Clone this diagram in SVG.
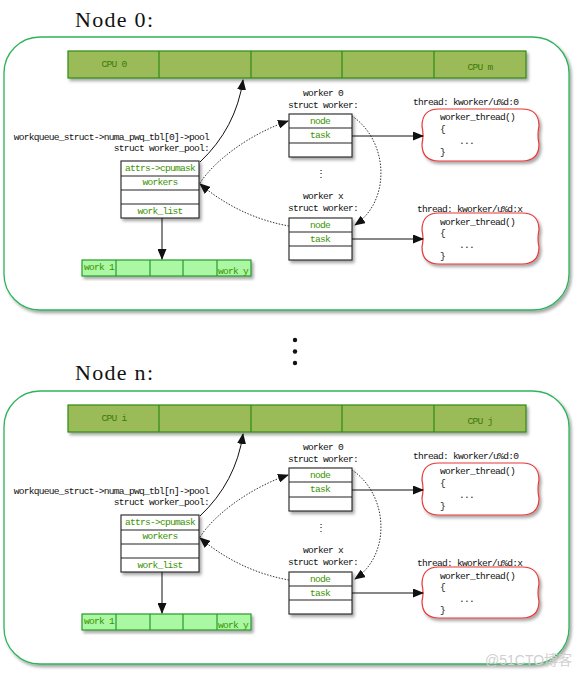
<svg xmlns="http://www.w3.org/2000/svg" width="581" height="676" viewBox="0 0 581 676">
<style>
.m{font-family:"Liberation Mono","DejaVu Sans Mono",monospace;font-size:9.6px;letter-spacing:-0.75px;fill:#111}
.mid{text-anchor:middle}
.end{text-anchor:end}
.g{fill:#3a9400}
.cpu{fill:#3a7a08}
.title{font-family:"Liberation Serif","DejaVu Serif",serif;font-size:22px;fill:#111}
.cont{fill:#fff;stroke:#2db45a;stroke-width:1.3}
.cpubar{fill:#9bbb59;stroke:#2f8a1a;stroke-width:1.2}
.wl{fill:#aaf7a4;stroke:#2a9a2a;stroke-width:1.2}
.box{fill:#fff;stroke:#222;stroke-width:1.1}
.cloud{fill:#fff;stroke:#e83838;stroke-width:1.2}
.sol{fill:none;stroke:#111;stroke-width:1}
.dot{fill:none;stroke:#333;stroke-width:1;stroke-dasharray:1.5 1.5}
</style>
<defs>
<filter id="sh" x="-10%" y="-10%" width="130%" height="140%">
<feDropShadow dx="2" dy="2.5" stdDeviation="1.5" flood-color="#000" flood-opacity="0.35"/>
</filter>
<marker id="ah" markerUnits="userSpaceOnUse" markerWidth="11" markerHeight="9" refX="10" refY="4.5" orient="auto">
<path d="M0,0 L11,4.5 L0,9 Z" fill="#111"/>
</marker>
</defs>

<!-- ===== Node 0 ===== -->
<text class="title" x="75" y="27" textLength="78">Node 0:</text>

<g id="node0-container">
<rect class="cont" x="4" y="37" width="565" height="273" rx="36" filter="url(#sh)"/>
</g>

<g id="node0-cpus">
<rect class="cpubar" x="68" y="51" width="458" height="27" filter="url(#sh)"/>
<path d="M159,51V78M251,51V78M342,51V78M434,51V78" stroke="#2f8a1a" stroke-width="1.2"/>
<text class="m mid cpu" x="114" y="67">CPU 0</text>
<text class="m mid cpu" x="480" y="70">CPU m</text>
</g>

<g id="node0-pool">
<text class="m end" x="209" y="140">workqueue_struct-&gt;numa_pwq_tbl[0]-&gt;pool</text>
<text class="m end" x="209" y="151">struct worker_pool:</text>
<rect class="box" x="121" y="161" width="78" height="57" filter="url(#sh)"/>
<path d="M121,176H199M121,190H199M121,204H199" stroke="#222" stroke-width="1.1"/>
<text class="m mid g" x="160" y="171">attrs-&gt;cpumask</text>
<text class="m mid g" x="160" y="185">workers</text>
<text class="m mid g" x="160" y="214">work_list</text>
</g>

<g id="node0-worklist">
<rect class="wl" x="82" y="260" width="169" height="16" filter="url(#sh)"/>
<path d="M116,260V276M150,260V276M183,260V276M217,260V276" stroke="#2a9a2a" stroke-width="1.2"/>
<text class="m g" x="84" y="270">work 1</text>
<text class="m g" x="218" y="274">work y</text>
</g>

<g id="node0-worker0">
<text class="m mid" x="323" y="96">worker 0</text>
<text class="m mid" x="323" y="108">struct worker:</text>
<rect class="box" x="289" y="114" width="63" height="43" filter="url(#sh)"/>
<path d="M289,128H352M289,143H352" stroke="#222" stroke-width="1.1"/>
<text class="m mid g" x="320" y="124">node</text>
<text class="m mid g" x="320" y="138">task</text>
</g>

<text class="m mid" x="321" y="177">⋮</text>

<g id="node0-workerx">
<text class="m mid" x="323" y="199">worker x</text>
<text class="m mid" x="323" y="211">struct worker:</text>
<rect class="box" x="289" y="218" width="63" height="42" filter="url(#sh)"/>
<path d="M289,232H352M289,246H352" stroke="#222" stroke-width="1.1"/>
<text class="m mid g" x="320" y="228">node</text>
<text class="m mid g" x="320" y="242">task</text>
</g>

<g id="node0-thread0">
<text class="m" x="413" y="105">thread: kworker/u%d:0</text>
<path class="cloud" filter="url(#sh)" d="M439,109H522Q539,109 539,126Q537,135 539,144Q539,161 522,161H439Q422,161 422,144Q424,135 422,126Q422,109 439,109Z"/>
<text class="m" x="440" y="120">worker_thread()</text>
<text class="m" x="440" y="132">{</text>
<text class="m" x="459" y="144">...</text>
<text class="m" x="440" y="155">}</text>
</g>

<g id="node0-threadx">
<text class="m" x="417" y="212">thread: kworker/u%d:x</text>
<path class="cloud" filter="url(#sh)" d="M439,213H522Q539,213 539,230Q537,239 539,247Q539,264 522,264H439Q422,264 422,247Q424,239 422,230Q422,213 439,213Z"/>
<text class="m" x="440" y="225">worker_thread()</text>
<text class="m" x="440" y="236">{</text>
<text class="m" x="459" y="248">...</text>
<text class="m" x="440" y="259">}</text>
</g>

<g id="node0-connectors">
<path class="sol" d="M200,162 Q236,128 243,80" marker-end="url(#ah)"/>
<path class="sol" d="M162,218 V259" stroke="#444" stroke-width="1.5" marker-end="url(#ah)"/>
<path class="dot" d="M200,183 C215,160 250,134 288,121" marker-end="url(#ah)"/>
<path class="dot" d="M289,226 C255,220 225,205 200,184" marker-end="url(#ah)"/>
<path class="dot" d="M352,116 C388,140 392,200 355,225" marker-end="url(#ah)"/>
<path class="sol" d="M352,136 H423" marker-end="url(#ah)"/>
<path class="sol" d="M352,239 H423" stroke="#444" stroke-width="1.4" marker-end="url(#ah)"/>
</g>

<!-- ellipsis between nodes -->
<g id="ellipsis">
<circle cx="295" cy="340" r="2.2" fill="#111"/>
<circle cx="295" cy="351.5" r="2.2" fill="#111"/>
<circle cx="295" cy="363" r="2.2" fill="#111"/>
</g>

<!-- ===== Node n ===== -->
<text class="title" x="75" y="380" textLength="78">Node n:</text>

<g transform="translate(0,354)">
<g id="noden-container">
<rect class="cont" x="4" y="37" width="565" height="273" rx="36" filter="url(#sh)"/>
</g>

<g id="noden-cpus">
<rect class="cpubar" x="68" y="51" width="458" height="27" filter="url(#sh)"/>
<path d="M159,51V78M251,51V78M342,51V78M434,51V78" stroke="#2f8a1a" stroke-width="1.2"/>
<text class="m mid cpu" x="114" y="67">CPU i</text>
<text class="m mid cpu" x="480" y="70">CPU j</text>
</g>

<g id="noden-pool">
<text class="m end" x="209" y="140">workqueue_struct-&gt;numa_pwq_tbl[n]-&gt;pool</text>
<text class="m end" x="209" y="151">struct worker_pool:</text>
<rect class="box" x="121" y="161" width="78" height="57" filter="url(#sh)"/>
<path d="M121,176H199M121,190H199M121,204H199" stroke="#222" stroke-width="1.1"/>
<text class="m mid g" x="160" y="171">attrs-&gt;cpumask</text>
<text class="m mid g" x="160" y="185">workers</text>
<text class="m mid g" x="160" y="214">work_list</text>
</g>

<g id="noden-worklist">
<rect class="wl" x="82" y="260" width="169" height="16" filter="url(#sh)"/>
<path d="M116,260V276M150,260V276M183,260V276M217,260V276" stroke="#2a9a2a" stroke-width="1.2"/>
<text class="m g" x="84" y="270">work 1</text>
<text class="m g" x="218" y="274">work y</text>
</g>

<g id="noden-worker0">
<text class="m mid" x="323" y="96">worker 0</text>
<text class="m mid" x="323" y="108">struct worker:</text>
<rect class="box" x="289" y="114" width="63" height="43" filter="url(#sh)"/>
<path d="M289,128H352M289,143H352" stroke="#222" stroke-width="1.1"/>
<text class="m mid g" x="320" y="124">node</text>
<text class="m mid g" x="320" y="138">task</text>
</g>

<text class="m mid" x="321" y="177">⋮</text>

<g id="noden-workerx">
<text class="m mid" x="323" y="199">worker x</text>
<text class="m mid" x="323" y="211">struct worker:</text>
<rect class="box" x="289" y="218" width="63" height="42" filter="url(#sh)"/>
<path d="M289,232H352M289,246H352" stroke="#222" stroke-width="1.1"/>
<text class="m mid g" x="320" y="228">node</text>
<text class="m mid g" x="320" y="242">task</text>
</g>

<g id="noden-thread0">
<text class="m" x="413" y="105">thread: kworker/u%d:0</text>
<path class="cloud" filter="url(#sh)" d="M439,109H522Q539,109 539,126Q537,135 539,144Q539,161 522,161H439Q422,161 422,144Q424,135 422,126Q422,109 439,109Z"/>
<text class="m" x="440" y="120">worker_thread()</text>
<text class="m" x="440" y="132">{</text>
<text class="m" x="459" y="144">...</text>
<text class="m" x="440" y="155">}</text>
</g>

<g id="noden-threadx">
<text class="m" x="417" y="212">thread: kworker/u%d:x</text>
<path class="cloud" filter="url(#sh)" d="M439,213H522Q539,213 539,230Q537,239 539,247Q539,264 522,264H439Q422,264 422,247Q424,239 422,230Q422,213 439,213Z"/>
<text class="m" x="440" y="225">worker_thread()</text>
<text class="m" x="440" y="236">{</text>
<text class="m" x="459" y="248">...</text>
<text class="m" x="440" y="259">}</text>
</g>

<g id="noden-connectors">
<path class="sol" d="M200,162 Q236,128 243,80" marker-end="url(#ah)"/>
<path class="sol" d="M162,218 V259" stroke="#444" stroke-width="1.5" marker-end="url(#ah)"/>
<path class="dot" d="M200,183 C215,160 250,134 288,121" marker-end="url(#ah)"/>
<path class="dot" d="M289,226 C255,220 225,205 200,184" marker-end="url(#ah)"/>
<path class="dot" d="M352,116 C388,140 392,200 355,225" marker-end="url(#ah)"/>
<path class="sol" d="M352,136 H423" marker-end="url(#ah)"/>
<path class="sol" d="M352,239 H423" stroke="#444" stroke-width="1.4" marker-end="url(#ah)"/>
</g>
</g>

<text x="485" y="665" font-family="Liberation Sans,'Noto Sans CJK SC',sans-serif" font-size="14" fill="#d0d0d0">@51CTO博客</text>
</svg>
